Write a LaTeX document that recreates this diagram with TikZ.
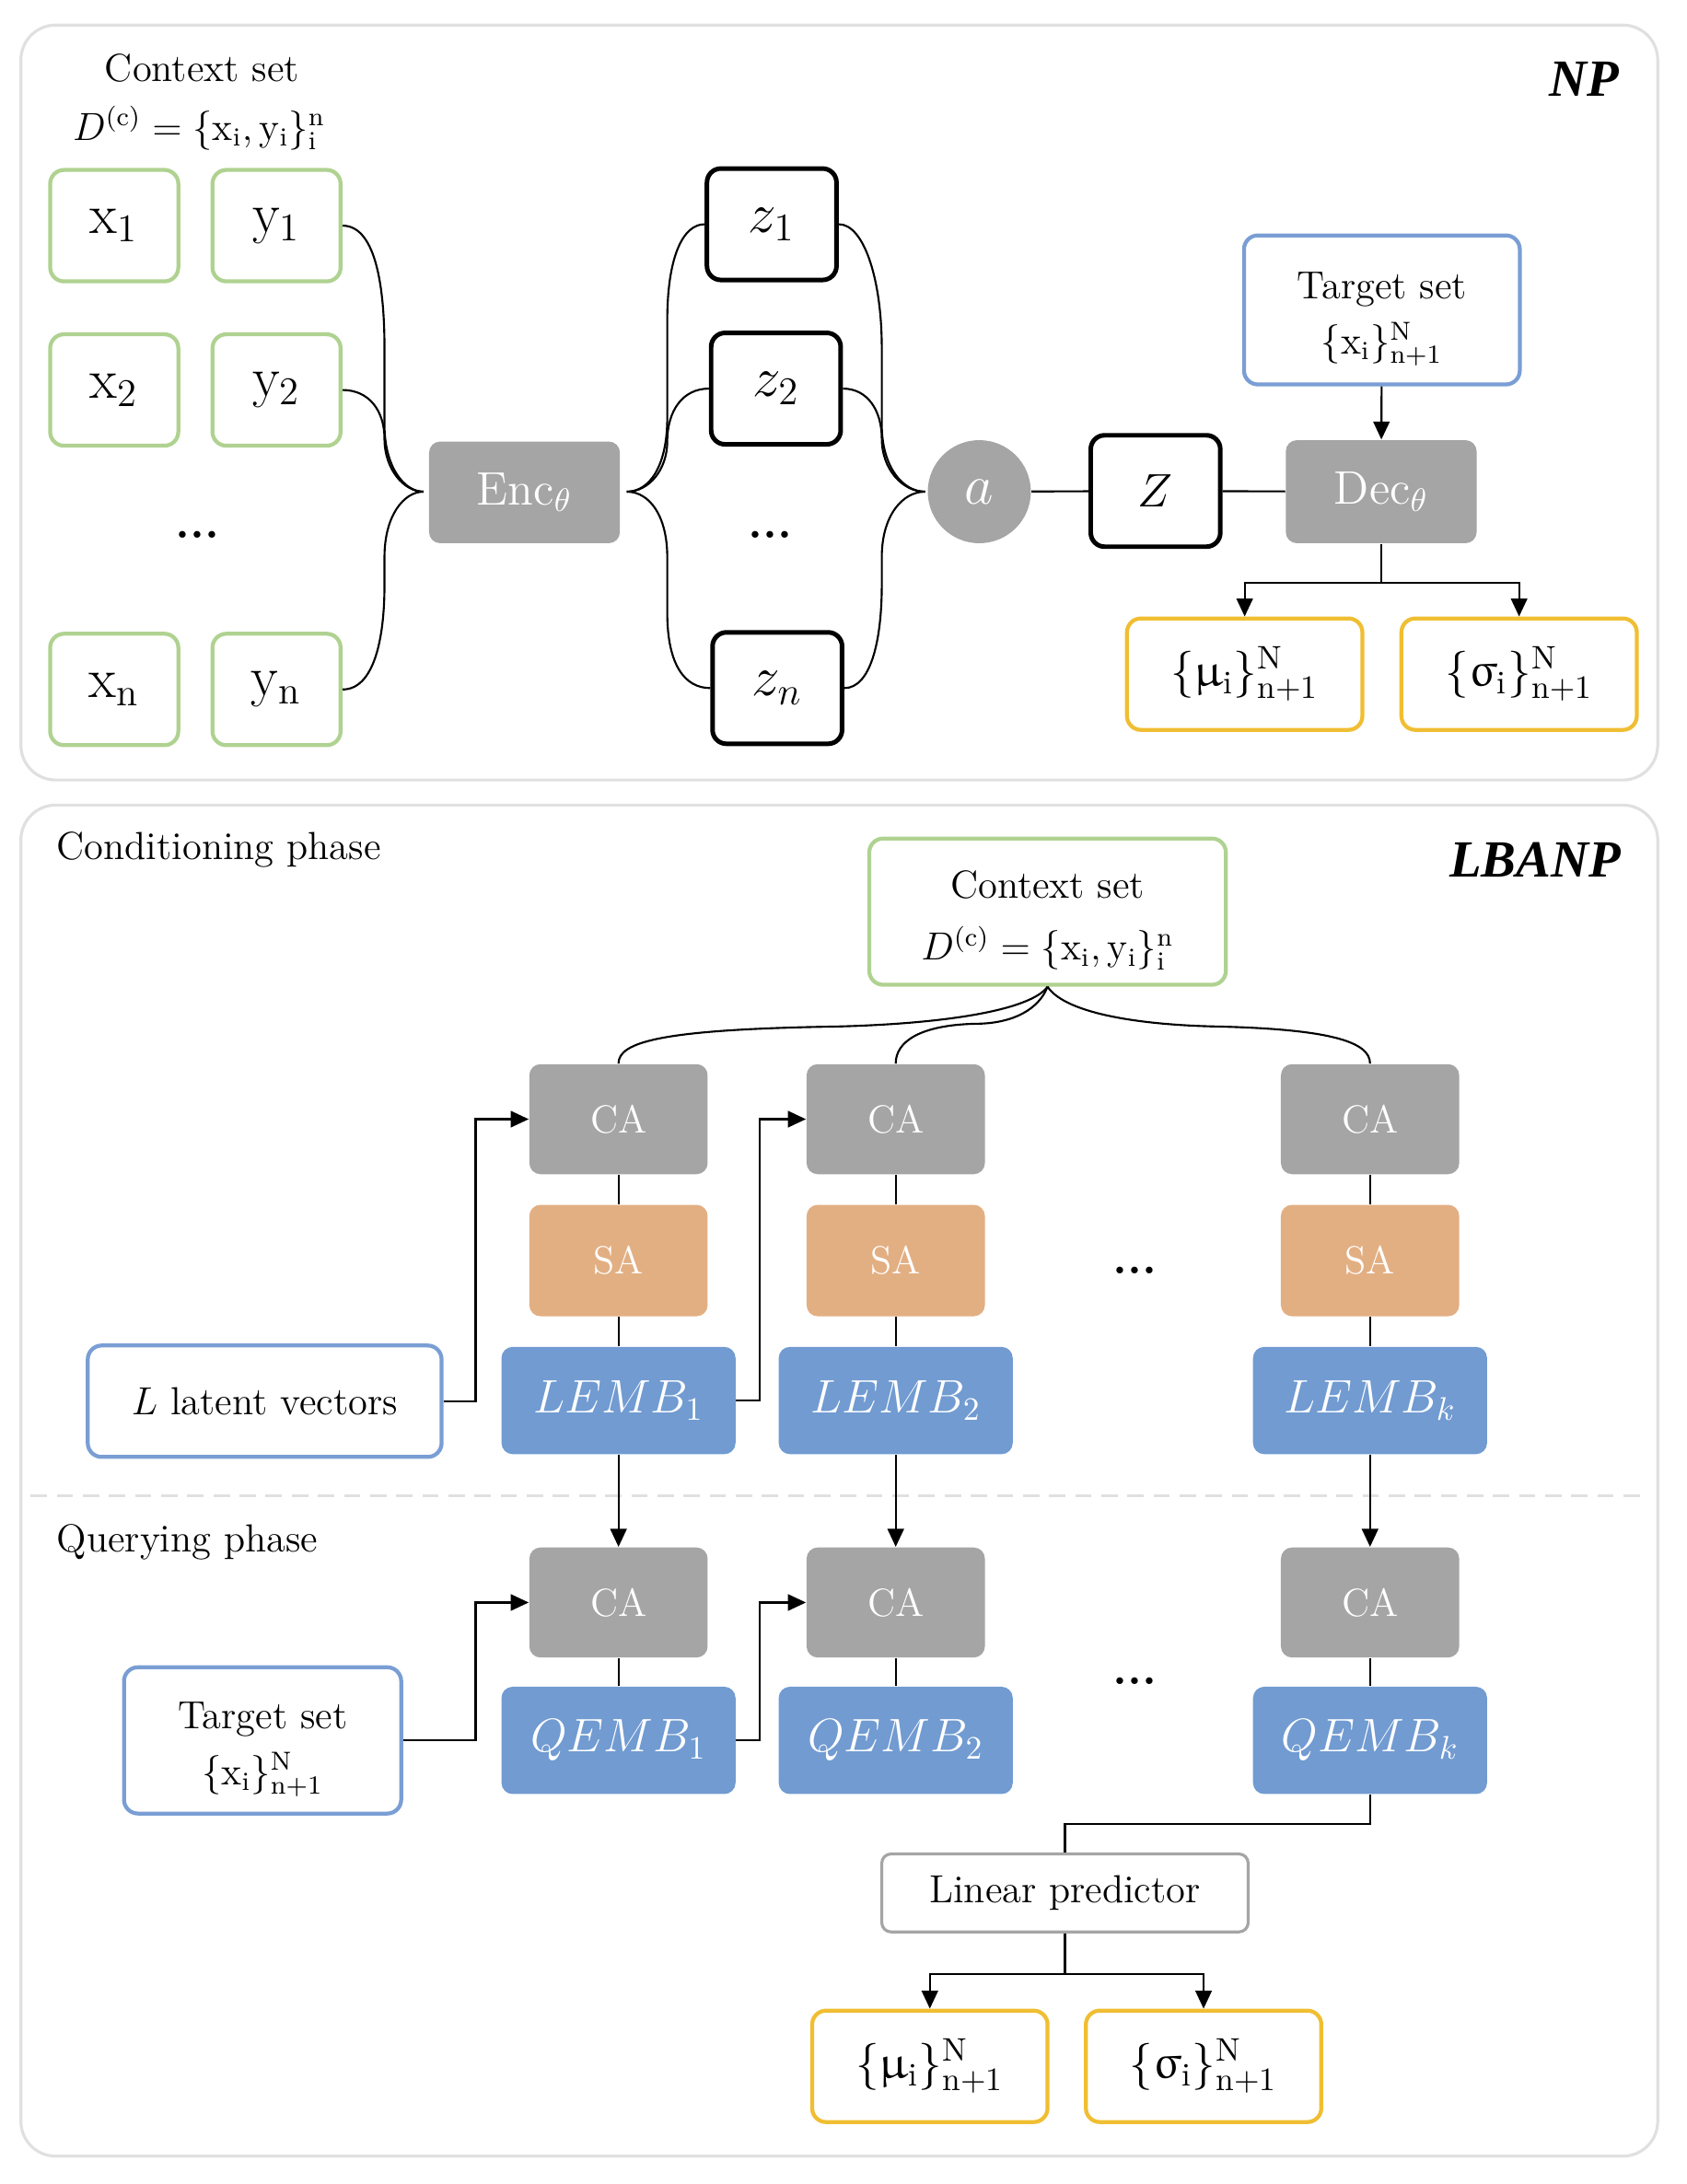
\documentclass[tikz,border=0pt]{standalone}
\usepackage{amsmath,amssymb,upgreek}
\usepackage{fontspec}
\newfontfamily\timesbi{Liberation Serif}
\usetikzlibrary{arrows.meta}
\definecolor{boxG}{RGB}{176,210,145}
\definecolor{boxB}{RGB}{122,158,212}
\definecolor{boxY}{RGB}{240,190,50}
\definecolor{fillB}{RGB}{113,155,209}
\definecolor{fillO}{RGB}{226,175,131}
\definecolor{fillK}{RGB}{165,165,165}
\definecolor{panelK}{RGB}{224,224,224}
\newcommand{\topstrut}{\rule{0pt}{1.15em}}

\begin{document}
\begin{tikzpicture}[x=0.015cm,y=-0.015cm,
  panel/.style={draw=panelK,line width=0.9pt,rounded corners=0.375cm},
  wire/.style={line width=0.6pt},
  arr/.style={wire,-{Triangle[length=5.5pt,width=5pt]}},
  outl/.style={rounded corners=0.15cm,line width=1.2pt,fill=white,inner sep=2pt},
  inbox/.style={outl,draw=boxG,minimum width=1.38cm,minimum height=1.2cm,font=\LARGE},
  zbox/.style={outl,draw=black,line width=1.4pt,minimum width=1.395cm,minimum height=1.2cm,font=\LARGE},
  tbox/.style={outl,draw=boxB,align=center,font=\large},
  ybox/.style={outl,draw=boxY,minimum width=2.535cm,minimum height=1.2cm,font=\Large},
  solid/.style={rounded corners=0.12cm,text=white,inner sep=2pt},
  graybox/.style={solid,fill=fillK,minimum width=1.92cm,minimum height=1.185cm,font=\large},
  sabox/.style={solid,fill=fillO,minimum width=1.92cm,minimum height=1.2cm,font=\large},
  embox/.style={solid,fill=fillB,minimum width=2.52cm,minimum height=1.155cm,font=\Large},
  dots/.style={font=\Large\bfseries},
  lbl/.style={font=\large,inner sep=1pt},
  tag/.style={font=\timesbi\fontsize{16}{19}\selectfont\bfseries\itshape}]
\useasboundingbox (0,0) rectangle (1211,1568);

% ---- NP panel
\draw[panel] (15,18) rectangle (1190,560);
\node[tag] (nptag) at (1137,57) {NP};
\node[lbl] (ctxtitle) at (145,49) {Context set};
\node[lbl] (ctxform) at (143,92) {$D^{(\mathrm{c})}=\{\mathrm{x}_{\mathrm{i}},\mathrm{y}_{\mathrm{i}}\}_{\mathrm{i}}^{\mathrm{n}}$};
\foreach \r/\y in {1/162,2/280,n/495} {
  \node[inbox] (x\r) at (82,\y) {$\mathrm{x}_{\mathrm{\r}}$};
  \node[inbox] (y\r) at (198.5,\y) {$\mathrm{y}_{\mathrm{\r}}$};
}
\node[dots] (xydots) at (142,384) {...};
\node[solid,fill=fillK,minimum width=2.055cm,minimum height=1.095cm,font=\Large] (enc) at (376.5,353.5) {$\mathrm{Enc}_{\theta}$};
\coordinate (encin) at (304,353);
\coordinate (encout) at (450,353);
\node[zbox] (z1) at (554,161) {$z_1$};
\node[zbox] (z2) at (557,279) {$z_2$};
\node[zbox] (zn) at (558,494) {$z_n$};
\node[dots] (zdots) at (553,384) {...};
\node[circle,fill=fillK,minimum size=1.11cm,text=white,font=\LARGE] (agg) at (703,353) {$a$};
\coordinate (aggin) at (664,353);
\node[zbox,font=\Large] (zz) at (829.5,352.5) {$Z$};
\node[solid,fill=fillK,minimum width=2.055cm,minimum height=1.11cm,font=\Large] (dec) at (991.5,353) {$\mathrm{Dec}_{\theta}$};
\node[tbox,minimum width=2.97cm,minimum height=1.605cm] (tgt) at (992,222.5) {\topstrut Target set\\[3pt]$\{\mathrm{x}_{\mathrm{i}}\}_{\mathrm{n+1}}^{\mathrm{N}}$};
\node[ybox] (mu) at (893.5,484) {$\{\upmu_{\mathrm{i}}\}_{\mathrm{n+1}}^{\mathrm{N}}$};
\node[ybox] (sig) at (1090.5,484) {$\{\upsigma_{\mathrm{i}}\}_{\mathrm{n+1}}^{\mathrm{N}}$};

% braces into and out of the encoder
\draw[wire] (y1.east) .. controls (268,162) and (276,200) .. (276,250) -- (276,305) .. controls (276,335) and (290,353) .. (encin);
\draw[wire] (y2.east) .. controls (265,280) and (276,295) .. (276,315) .. controls (276,337) and (290,353) .. (encin);
\draw[wire] (yn.east) .. controls (268,495) and (276,460) .. (276,420) -- (276,400) .. controls (276,370) and (290,353) .. (encin);
\draw[wire] (encout) .. controls (466,353) and (479,335) .. (479,300) -- (479,230) .. controls (479,185) and (490,161) .. (z1.west);
\draw[wire] (encout) .. controls (466,353) and (479,337) .. (479,317) .. controls (479,295) and (490,279) .. (z2.west);
\draw[wire] (encout) .. controls (466,353) and (479,370) .. (479,400) -- (479,440) .. controls (479,478) and (492,494) .. (zn.west);
\draw[wire] (z1.east) .. controls (620,161) and (633,200) .. (633,250) -- (633,305) .. controls (633,335) and (648,353) .. (aggin);
\draw[wire] (z2.east) .. controls (623,279) and (633,295) .. (633,315) .. controls (633,337) and (648,353) .. (aggin);
\draw[wire] (zn.east) .. controls (625,494) and (633,460) .. (633,420) -- (633,400) .. controls (633,370) and (648,353) .. (aggin);
\draw[wire] (agg) -- (zz);
\draw[wire] (zz) -- (dec);
\draw[arr] (tgt) -- (dec);
\draw[arr] (dec.south) -- ++(0,28) -| (mu.north);
\draw[arr] (dec.south) -- ++(0,28) -| (sig.north);

% ---- LBANP panel
\draw[panel] (15,578) rectangle (1190,1548);
\draw[draw=panelK,line width=0.9pt,dash pattern=on 5pt off 3pt] (22,1074) -- (1183,1074);
\node[tag] (lbtag) at (1102,617) {LBANP};
\node[lbl,anchor=west] (condlbl) at (38,610) {Conditioning phase};
\node[lbl,anchor=west] (querlbl) at (38,1107) {Querying phase};
\node[tbox,draw=boxG,minimum width=3.84cm,minimum height=1.575cm] (ctx) at (752,654.5) {\topstrut Context set\\[5pt]$D^{(\mathrm{c})}=\{\mathrm{x}_{\mathrm{i}},\mathrm{y}_{\mathrm{i}}\}_{\mathrm{i}}^{\mathrm{n}}$};
\foreach \col/\x in {1/444,2/643,k/983.5} {
  \node[graybox] (ca\col) at (\x,803.5) {CA};
  \node[sabox] (sa\col) at (\x,905) {SA};
  \node[embox] (lemb\col) at (\x,1005.5) {$LEMB_{\col}$};
  \node[graybox] (cq\col) at (\x,1150.5) {CA};
  \node[embox] (qemb\col) at (\x,1249.5) {$QEMB_{\col}$};
  \draw[wire] (ca\col) -- (sa\col);
  \draw[wire] (sa\col) -- (lemb\col);
  \draw[arr] (lemb\col) -- (cq\col);
  \draw[wire] (cq\col) -- (qemb\col);
}
\node[dots] (cdots) at (815,912) {...};
\node[dots] (qdots) at (815,1207) {...};
\draw[wire] (ctx.south) .. controls (740,725) and (680,735) .. (600,737) .. controls (475,739) and (444,748) .. (ca1.north);
\draw[wire] (ctx.south) .. controls (746,724) and (728,735) .. (700,735) .. controls (660,736) and (643,748) .. (ca2.north);
\draw[wire] (ctx.south) .. controls (765,728) and (820,736) .. (875,737) .. controls (955,739) and (983.5,748) .. (cak.north);
\node[tbox,minimum width=3.81cm,minimum height=1.2cm] (lat) at (190,1006) {$L$ latent vectors};
\draw[arr] (lat.east) -- ++(23,0) |- (ca1.west);
\draw[arr] (lemb1.east) -- ++(17,0) |- (ca2.west);
\node[tbox,minimum width=2.985cm,minimum height=1.575cm] (tq) at (188.5,1249.5) {\topstrut Target set\\[3pt]$\{\mathrm{x}_{\mathrm{i}}\}_{\mathrm{n+1}}^{\mathrm{N}}$};
\draw[arr] (tq.east) -- ++(52,0) |- (cq1.west);
\draw[arr] (qemb1.east) -- ++(17,0) |- (cq2.west);
\node[outl,draw=fillK,line width=0.9pt,rounded corners=0.1cm,minimum width=3.945cm,minimum height=0.84cm,font=\large] (lin) at (764.5,1359) {Linear predictor};
\draw[wire] (qembk.south) -- ++(0,21) -| (lin.north);
\node[ybox] (muq) at (667.5,1483.5) {$\{\upmu_{\mathrm{i}}\}_{\mathrm{n+1}}^{\mathrm{N}}$};
\node[ybox] (sigq) at (864,1483.5) {$\{\upsigma_{\mathrm{i}}\}_{\mathrm{n+1}}^{\mathrm{N}}$};
\draw[arr] (lin.south) -- ++(0,29) -| (muq.north);
\draw[arr] (lin.south) -- ++(0,29) -| (sigq.north);
\end{tikzpicture}
\end{document}
